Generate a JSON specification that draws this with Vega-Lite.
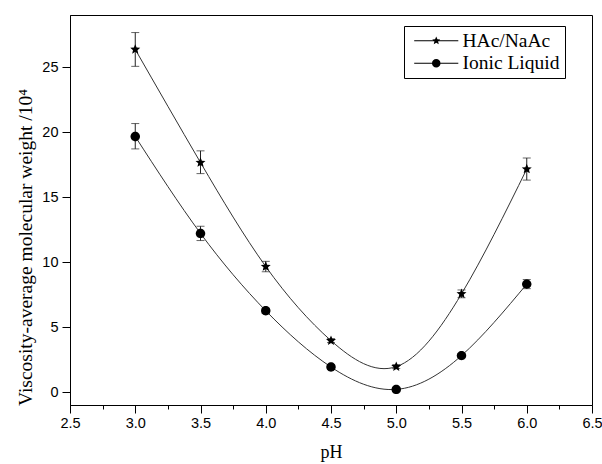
{
  "$schema": "https://vega.github.io/schema/vega-lite/v6.json",
  "width": 522,
  "height": 390,
  "autosize": "none",
  "padding": {"left": 70, "top": 15, "right": 10, "bottom": 59},
  "background": "white",
  "config": {
    "view": {"stroke": "black", "strokeWidth": 1},
    "axis": {"grid": false, "domainColor": "black", "tickColor": "black", "labelColor": "black", "titleColor": "black", "labelFont": "Liberation Sans", "labelFontSize": 14.5, "titleFont": "Liberation Serif", "titleFontSize": 18, "titleFontWeight": "normal", "labelOverlap": false, "labelFlush": false, "domainWidth": 1, "tickWidth": 1},
    "axisY": {"titleFontSize": 19.5, "titleBaseline": "alphabetic", "titleX": -39, "titleY": 232}
  },
  "data": {
    "values": [
      {"series": "HAc/NaAc", "pH": 3.0, "v": 26.35, "lo": 25.05, "hi": 27.65},
      {"series": "HAc/NaAc", "pH": 3.5, "v": 17.65, "lo": 16.8, "hi": 18.55},
      {"series": "HAc/NaAc", "pH": 4.0, "v": 9.65, "lo": 9.25, "hi": 10.05},
      {"series": "HAc/NaAc", "pH": 4.5, "v": 3.95, "lo": 3.8, "hi": 4.1},
      {"series": "HAc/NaAc", "pH": 5.0, "v": 1.95, "lo": 1.8, "hi": 2.1},
      {"series": "HAc/NaAc", "pH": 5.5, "v": 7.55, "lo": 7.25, "hi": 7.85},
      {"series": "HAc/NaAc", "pH": 6.0, "v": 17.15, "lo": 16.3, "hi": 18.0},
      {"series": "Ionic Liquid", "pH": 3.0, "v": 19.65, "lo": 18.7, "hi": 20.65},
      {"series": "Ionic Liquid", "pH": 3.5, "v": 12.2, "lo": 11.65, "hi": 12.75},
      {"series": "Ionic Liquid", "pH": 4.0, "v": 6.25, "lo": 6.05, "hi": 6.45},
      {"series": "Ionic Liquid", "pH": 4.5, "v": 1.92, "lo": 1.8, "hi": 2.05},
      {"series": "Ionic Liquid", "pH": 5.0, "v": 0.2, "lo": 0.05, "hi": 0.35},
      {"series": "Ionic Liquid", "pH": 5.5, "v": 2.8, "lo": 2.65, "hi": 2.95},
      {"series": "Ionic Liquid", "pH": 6.0, "v": 8.3, "lo": 7.95, "hi": 8.65}
    ]
  },
  "encoding": {
    "x": {
      "field": "pH",
      "type": "quantitative",
      "scale": {"domain": [2.5, 6.5], "nice": false, "zero": false},
      "axis": {
        "title": "pH",
        "values": [2.5, 2.75, 3.0, 3.25, 3.5, 3.75, 4.0, 4.25, 4.5, 4.75, 5.0, 5.25, 5.5, 5.75, 6.0, 6.25, 6.5],
        "labelExpr": "(datum.value*2)%1 == 0 ? format(datum.value, '.1f') : ''",
        "tickSize": {"condition": {"test": "(datum.value*2)%1 != 0", "value": 4}, "value": 8},
        "labelPadding": 3,
        "titleBaseline": "alphabetic",
        "titleY": 52
      }
    }
  },
  "resolve": {"scale": {"shape": "independent"}, "legend": {"shape": "independent"}},
  "layer": [
    {
      "mark": {"type": "line", "interpolate": "natural", "color": "#333333", "strokeWidth": 1},
      "encoding": {
        "y": {
          "field": "v",
          "type": "quantitative",
          "scale": {"domain": [-1, 29], "nice": false, "zero": false},
          "axis": {
            "title": "Viscosity-average molecular weight /10⁴",
            "values": [0, 2.5, 5, 7.5, 10, 12.5, 15, 17.5, 20, 22.5, 25, 27.5],
            "labelExpr": "datum.value % 5 == 0 ? format(datum.value, 'd') : ''",
            "tickSize": {"condition": {"test": "datum.value % 5 != 0", "value": 4}, "value": 8},
            "labelPadding": 4
          }
        },
        "detail": {"field": "series"}
      }
    },
    {
      "mark": {"type": "rule", "color": "#222222", "strokeWidth": 1},
      "encoding": {
        "y": {"field": "lo", "type": "quantitative", "scale": {"domain": [-1, 29], "nice": false, "zero": false}},
        "y2": {"field": "hi"}
      }
    },
    {
      "mark": {"type": "tick", "orient": "horizontal", "size": 8, "thickness": 1, "color": "#222222"},
      "encoding": {
        "y": {"field": "lo", "type": "quantitative", "scale": {"domain": [-1, 29], "nice": false, "zero": false}}
      }
    },
    {
      "mark": {"type": "tick", "orient": "horizontal", "size": 8, "thickness": 1, "color": "#222222"},
      "encoding": {
        "y": {"field": "hi", "type": "quantitative", "scale": {"domain": [-1, 29], "nice": false, "zero": false}}
      }
    },
    {
      "mark": {"type": "point", "filled": true, "opacity": 1, "color": "black", "size": 110},
      "encoding": {
        "y": {"field": "v", "type": "quantitative", "scale": {"domain": [-1, 29], "nice": false, "zero": false}},
        "shape": {
          "field": "series",
          "type": "nominal",
          "scale": {
            "domain": ["HAc/NaAc", "Ionic Liquid"],
            "range": [
              "M0,-1L0.2645,-0.364L0.951,-0.309L0.428,0.139L0.588,0.809L0,0.45L-0.588,0.809L-0.428,0.139L-0.951,-0.309L-0.2645,-0.364Z",
              "M0.9,0A0.9,0.9 0 1 1 -0.9,0A0.9,0.9 0 1 1 0.9,0Z"
            ]
          },
          "legend": null
        }
      }
    },
    {
      "mark": {"type": "point", "filled": true, "opacity": 1, "color": "black", "size": 0},
      "encoding": {
        "y": {"field": "v", "type": "quantitative", "scale": {"domain": [-1, 29], "nice": false, "zero": false}},
        "shape": {
          "field": "series",
          "type": "nominal",
          "scale": {
            "domain": ["HAc/NaAc", "Ionic Liquid"],
            "range": [
              "M-4.9,-0.12L4.9,-0.12L4.9,0.12L-4.9,0.12ZM0,-0.95L0.2645,-0.346L0.9,-0.294L0.407,0.132L0.559,0.769L0,0.428L-0.559,0.769L-0.407,0.132L-0.9,-0.294L-0.2645,-0.346Z",
              "M-4.9,-0.12L4.9,-0.12L4.9,0.12L-4.9,0.12ZM0.95,0A0.95,0.95 0 1 1 -0.95,0A0.95,0.95 0 1 1 0.95,0Z"
            ]
          },
          "legend": {
            "title": null,
            "orient": "none",
            "legendX": 334,
            "legendY": 11,
            "strokeColor": "black",
            "fillColor": "white",
            "padding": 5,
            "labelFont": "Liberation Serif",
            "labelFontSize": 19.5,
            "labelColor": "black",
            "symbolSize": 81,
            "symbolOffset": 17.5,
            "labelOffset": 16.5,
            "rowPadding": 1.5,
            "symbolOpacity": 1,
            "encode": {
              "symbols": {
                "size": {"value": 81},
                "opacity": {"value": 1}
              }
            }
          }
        }
      }
    }
  ]
}
